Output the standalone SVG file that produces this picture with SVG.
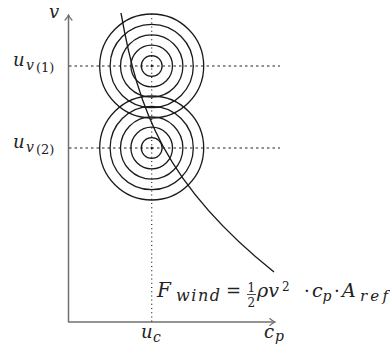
<svg xmlns="http://www.w3.org/2000/svg" width="390" height="347" viewBox="0 0 390 347">
<style>
.ax{stroke:#707070;stroke-width:1.5;fill:none}
.ring{stroke:#1a1a1a;stroke-width:1.3;fill:none}
.dash{stroke:#222;stroke-width:1;stroke-dasharray:2.5,3;fill:none}
.dot{stroke:#222;stroke-width:1.2;stroke-dasharray:1,3.2;fill:none}
.curve{stroke:#1a1a1a;stroke-width:1.4;fill:none}
</style>
<defs>
<marker id="arr" markerWidth="10" markerHeight="10" refX="7" refY="5" orient="auto" markerUnits="userSpaceOnUse">
<path d="M1.5,1.2 Q4.5,4 7,5 Q4.5,6 1.5,8.8" fill="none" stroke="#707070" stroke-width="1.2"/>
</marker>
</defs>
<g id="axes">
<path class="ax" d="M68.5,322 L68.5,15" marker-end="url(#arr)"/>
<path class="ax" d="M68,322 L275,322" marker-end="url(#arr)"/>
</g>
<g id="guides">
<path class="dash" d="M69,66 L280,66"/>
<path class="dash" d="M69,148 L280,148"/>
<path class="dot" d="M151.7,14 L151.7,322"/>
</g>
<g id="rings-top">
<circle class="ring" cx="151.7" cy="66" r="10.4"/>
<circle class="ring" cx="151.7" cy="66" r="20.8"/>
<circle class="ring" cx="151.7" cy="66" r="31.2"/>
<circle class="ring" cx="151.7" cy="66" r="41.6"/>
<circle class="ring" cx="151.7" cy="66" r="52"/>
<circle cx="151.7" cy="66" r="1.2" fill="#1a1a1a"/>
</g>
<g id="rings-bottom">
<circle class="ring" cx="151.7" cy="148" r="10.4"/>
<circle class="ring" cx="151.7" cy="148" r="20.8"/>
<circle class="ring" cx="151.7" cy="148" r="31.2"/>
<circle class="ring" cx="151.7" cy="148" r="41.6"/>
<circle class="ring" cx="151.7" cy="148" r="52"/>
<circle cx="151.7" cy="148" r="1.2" fill="#1a1a1a"/>
</g>
<g id="connectors">
<path class="curve" d="M121,13 C138,110 165,185 274,272"/>
</g>
<g id="labels" font-family="DejaVu Serif, serif" font-style="italic" fill="#222">
<text font-size="18" x="49" y="18">v</text>
<text x="13" y="65.5" font-size="18">u</text>
<text x="26" y="69.5" font-size="14">v</text>
<text x="36" y="71.5" font-size="13" font-style="normal">(1)</text>
<text x="13" y="147.5" font-size="18">u</text>
<text x="26" y="151.5" font-size="14">v</text>
<text x="36" y="153.5" font-size="13" font-style="normal">(2)</text>
<text x="141" y="338" font-size="18">u</text>
<text x="153" y="342" font-size="14">c</text>
<text x="264" y="338" font-size="18">c</text>
<text x="275" y="341" font-size="14">p</text>
</g>
<g id="formula" font-family="DejaVu Serif, serif" font-style="italic" fill="#222">
<text x="157" y="297" font-size="20">F</text>
<text x="176" y="301" font-size="16" textLength="44" lengthAdjust="spacing">wind</text>
<text x="226" y="297" font-size="18" font-style="normal">=</text>
<text x="247.5" y="292" font-size="12" font-style="normal">1</text>
<line x1="247" y1="294.5" x2="256" y2="294.5" stroke="#222" stroke-width="0.8"/>
<text x="247.5" y="307" font-size="12" font-style="normal">2</text>
<text x="257" y="297" font-size="19">ρv</text>
<text x="282" y="291" font-size="12" font-style="normal">2</text>
<text x="304" y="297" font-size="18" font-style="normal">·</text>
<text x="312" y="297" font-size="19">c</text>
<text x="322.5" y="301" font-size="14">p</text>
<text x="334" y="297" font-size="18" font-style="normal">·</text>
<text x="342" y="297" font-size="19">A</text>
<text x="360" y="301" font-size="15" textLength="28" lengthAdjust="spacing">ref</text>
</g>
</svg>
